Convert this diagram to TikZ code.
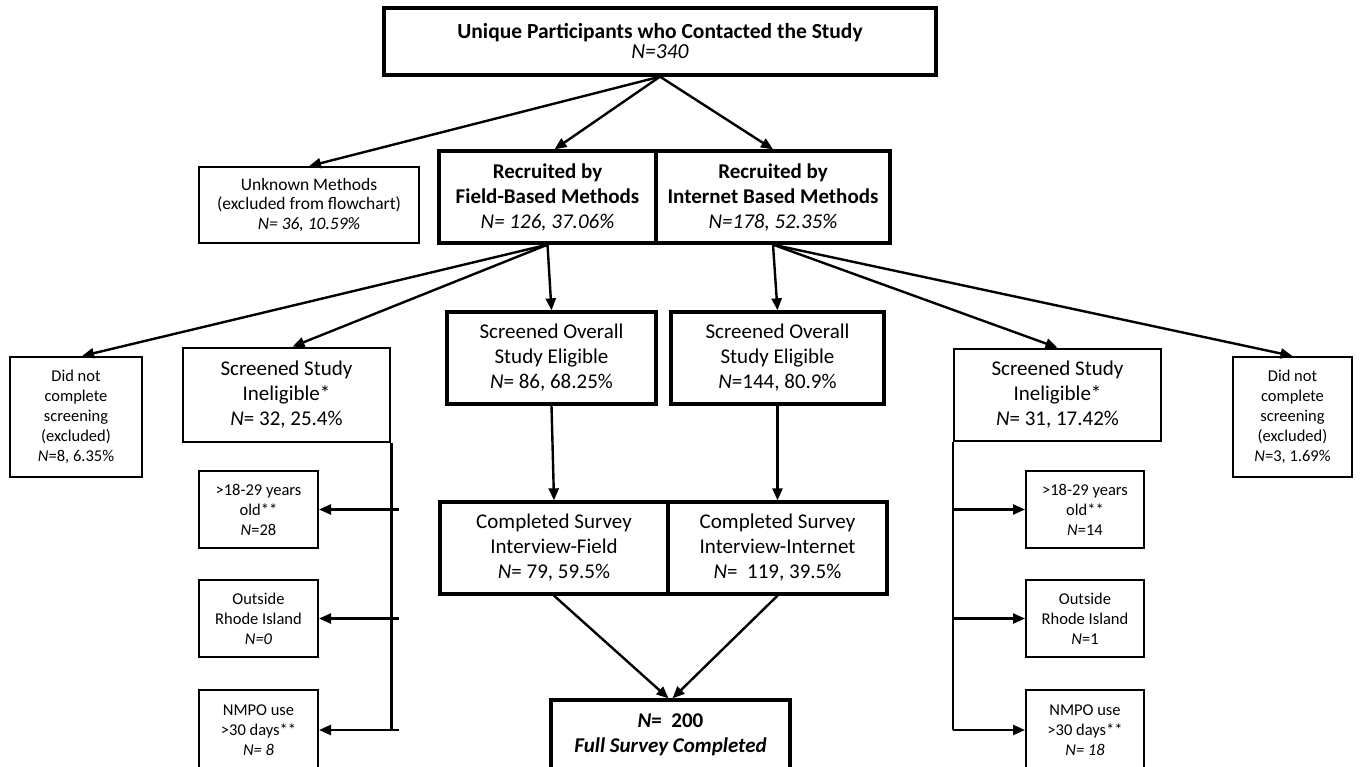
\documentclass[tikz,border=0pt]{standalone}
\usepackage{fontspec}
\setmainfont{Carlito}
\usetikzlibrary{calc,arrows.meta,positioning}
\tikzset{
main_box/.style={rectangle, draw, line width=3.3pt, align=center, inner sep=0pt, font=\fontsize{21}{25}\selectfont},
mid_box/.style={rectangle, draw, line width=2.6pt, align=center, inner sep=0pt, font=\fontsize{21}{25}\selectfont},
small_box/.style={rectangle, draw, line width=2pt, align=center, inner sep=0pt, font=\fontsize{16.5}{20}\selectfont},
flow_arrow/.style={line width=2.4pt, -{Triangle[length=12pt,width=10pt]}},
branch_line/.style={line width=2.4pt}
}

\begin{document}
\begin{tikzpicture}[x=1pt, y=-1pt]
    \useasboundingbox (0,0) rectangle (1360,766);
    % top of the flow
    \node[main_box, font=\fontsize{21.5}{20}\selectfont, minimum width=552, minimum height=67] (contact) at (660,41.5) {\textbf{Unique Participants who Contacted the Study}\\\textit{N=340}};
    \node[small_box, font=\fontsize{17.5}{19.5}\selectfont, line width=1.7pt, minimum width=220, minimum height=76] (unknown) at (309,205) {Unknown Methods\\(excluded from flowchart)\\\textit{N= 36, 10.59\%}};
    \node[main_box, minimum width=217, minimum height=92] (rec_field) at (547.5,197) {\textbf{Recruited by}\\\textbf{Field-Based Methods}\\\textit{N= 126, 37.06\%}};
    \node[main_box, minimum width=234, minimum height=92] (rec_net) at (773,197) {\textbf{Recruited by}\\\textbf{Internet Based Methods}\\\textit{N=178, 52.35\%}};

    % screening
    \node[small_box, minimum width=132, minimum height=120] (skip_field) at (76,417) {Did not\\complete\\screening\\(excluded)\\\textit{N}=8, 6.35\%};
    \node[mid_box, minimum width=207, minimum height=94] (inel_field) at (286.5,395) {Screened Study\\Ineligible*\\\textit{N}= 32, 25.4\%};
    \node[main_box, minimum width=209, minimum height=92] (elig_field) at (551.5,358) {Screened Overall\\Study Eligible\\\textit{N}= 86, 68.25\%};
    \node[main_box, minimum width=213, minimum height=92] (elig_net) at (777.5,358) {Screened Overall\\Study Eligible\\\textit{N}=144, 80.9\%};
    \node[mid_box, minimum width=207, minimum height=92] (inel_net) at (1057.5,395) {Screened Study\\Ineligible*\\\textit{N}= 31, 17.42\%};
    \node[small_box, minimum width=119, minimum height=120] (skip_net) at (1292.5,417) {Did not\\complete\\screening\\(excluded)\\\textit{N}=3, 1.69\%};

    % reasons for ineligibility
    \node[small_box, minimum width=119, minimum height=77] (age_field) at (258.5,509.5) {>18-29 years\\old**\\\textit{N}=28};
    \node[small_box, minimum width=119, minimum height=77] (ri_field) at (258.5,618.5) {Outside\\Rhode Island\\\textit{N=0}};
    \node[small_box, minimum width=119, minimum height=80] (use_field) at (258.5,730) {NMPO use\\>30 days**\\\textit{N= 8}};
    \node[small_box, minimum width=118, minimum height=77] (age_net) at (1085,509.5) {>18-29 years\\old**\\\textit{N}=14};
    \node[small_box, minimum width=118, minimum height=77] (ri_net) at (1085,618.5) {Outside\\Rhode Island\\\textit{N}=1};
    \node[small_box, minimum width=118, minimum height=80] (use_net) at (1085,730) {NMPO use\\>30 days**\\\textit{N= 18}};

    % completed
    \node[main_box, minimum width=228, minimum height=92] (done_field) at (554,548) {Completed Survey\\Interview-Field\\\textit{N}= 79, 59.5\%};
    \node[main_box, minimum width=219, minimum height=92] (done_net) at (777.5,548) {Completed Survey\\Interview-Internet\\\textit{N}=\ \ 119, 39.5\%};
    \node[main_box, minimum width=239, minimum height=70] (full) at (670.5,735) {\textbf{\textit{N}=\ \ 200}\\\textbf{\textit{Full Survey Completed}}};

    \draw[flow_arrow] (contact.south) -- (unknown.north);
    \draw[flow_arrow] (contact.south) -- ([xshift=7pt]rec_field.north);
    \draw[flow_arrow] (contact.south) -- (rec_net.north);

    \draw[flow_arrow] (rec_field.south) -- ([xshift=6pt]skip_field.north);
    \draw[flow_arrow] (rec_field.south) -- ([xshift=6pt]inel_field.north);
    \draw[flow_arrow] (rec_field.south) -- (elig_field.north);
    \draw[flow_arrow] (rec_net.south) -- (elig_net.north);
    \draw[flow_arrow] (rec_net.south) -- (inel_net.north);
    \draw[flow_arrow] (rec_net.south) -- (skip_net.north);

    \draw[flow_arrow] (elig_field.south) -- (done_field.north);
    \draw[flow_arrow] (elig_net.south) -- (done_net.north);
    \draw[flow_arrow] (done_field.south) -- ([xshift=-2pt]full.north);
    \draw[flow_arrow] (done_net.south) -- ([xshift=2pt]full.north);

    % branches to the reasons
    \draw[branch_line] (inel_field.south east) -- (inel_field.south east |- use_field.east);
    \foreach \why in {age_field, ri_field, use_field}
        \draw[flow_arrow] ([xshift=8pt]inel_field.south east |- \why.east) -- (\why.east);
    \draw[branch_line] (inel_net.south west) -- (inel_net.south west |- use_net.east);
    \foreach \why in {age_net, ri_net, use_net}
        \draw[flow_arrow] (inel_net.south west |- \why.east) -- (\why.west);
\end{tikzpicture}
\end{document}
